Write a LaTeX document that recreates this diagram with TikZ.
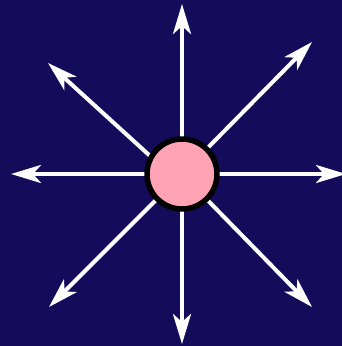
\documentclass[tikz,border=0pt]{standalone}
\usepackage{tikz}
\usetikzlibrary{arrows.meta,backgrounds}
\definecolor{bgc}{HTML}{140C5A}
\definecolor{hubc}{HTML}{FFA3B5}

\begin{document}
\begin{tikzpicture}[x=0.02cm, y=-0.02cm,
  ray/.style={draw=white, line width=0.08cm,
    -{Stealth[length=0.6cm, width=0.36cm, inset=0.16cm]}},
  hubnode/.style={circle, draw=black, line width=0.11cm, fill=hubc,
    minimum size=1.4cm, inner sep=0pt}]
  \useasboundingbox (0,0) rectangle (342,346);
  \clip (0,0) rectangle (342,346);
  \node[hubnode] (hub) at (182,174) {};
  \coordinate (tipn) at (182,4);
  \coordinate (tips) at (182,344);
  \coordinate (tipw) at (11,174);
  \coordinate (tipe) at (346,174);
  \coordinate (tipne) at (312,42);
  \coordinate (tipnw) at (48,63);
  \coordinate (tipsw) at (49,307);
  \coordinate (tipse) at (312,307);
  \begin{pgfonlayer}{background}
    \fill[bgc] (0,0) rectangle (342,346);
    \draw[ray] (hub.center) -- (tipn);
    \draw[ray] (hub.center) -- (tips);
    \draw[ray] (hub.center) -- (tipw);
    \draw[ray] (hub.center) -- (tipe);
    \draw[ray] (hub.center) -- (tipne);
    \draw[ray] ([yshift=-0.22cm]hub.center) -- (tipnw);
    \draw[ray] (hub.center) -- (tipsw);
    \draw[ray] (hub.center) -- (tipse);
  \end{pgfonlayer}
\end{tikzpicture}
\end{document}
